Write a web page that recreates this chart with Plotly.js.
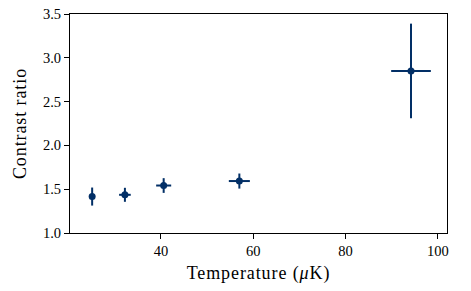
<!DOCTYPE html>
<html><head><meta charset="utf-8">
<script src="https://cdn.plot.ly/plotly-3.0.1.min.js"></script>
<style>html,body{margin:0;padding:0;background:#fff}#c{width:471px;height:291px}
.xtitle,.ytitle{letter-spacing:0.9px}</style>
</head><body><div id="c"></div>
<script>
const temperature = [25.1, 32.2, 40.6, 57.0, 94.2];
const temperatureErr = [0.4, 1.26, 1.63, 2.28, 4.3];
const contrast = [1.416, 1.436, 1.542, 1.593, 2.85];
const contrastErr = [0.103, 0.08, 0.084, 0.086, 0.54];
const xTicks = [40, 60, 80, 100];
const yTicks = [1.0, 1.5, 2.0, 2.5, 3.0, 3.5];
const col = '#022f66';
const trace = {
  x: temperature, y: contrast, type: 'scatter', mode: 'markers',
  marker: {color: col, size: 7},
  error_x: {type: 'data', array: temperatureErr, visible: true, color: col, thickness: 2, width: 0},
  error_y: {type: 'data', array: contrastErr, visible: true, color: col, thickness: 2, width: 0}
};
const font = {family: 'Liberation Serif, DejaVu Serif, serif', color: '#000'};
const layout = {
  width: 471, height: 291,
  margin: {l: 70, r: 24, t: 14, b: 58},
  paper_bgcolor: '#fff', plot_bgcolor: '#fff',
  showlegend: false,
  font: Object.assign({size: 12}, font),
  xaxis: {
    range: [20.3, 102], tickvals: xTicks, ticktext: xTicks.map(String),
    showgrid: false, zeroline: false, showline: true, mirror: true, linecolor: '#000', linewidth: 1,
    ticks: 'outside', ticklen: 5, tickwidth: 1, tickcolor: '#000',
    tickfont: {size: 14.5},
    title: {text: 'Temperature (<i>μ</i>K)', font: {size: 18}, standoff: 7}
  },
  yaxis: {
    range: [1.0, 3.5], tickvals: yTicks, ticktext: yTicks.map(v => v.toFixed(1)),
    showgrid: false, zeroline: false, showline: true, mirror: true, linecolor: '#000', linewidth: 1,
    ticks: 'outside', ticklen: 5, tickwidth: 1, tickcolor: '#000',
    tickfont: {size: 14.5},
    title: {text: 'Contrast ratio', font: {size: 18}, standoff: 11}
  }
};
Plotly.newPlot('c', [trace], layout, {displayModeBar: false, staticPlot: true});
</script></body></html>
